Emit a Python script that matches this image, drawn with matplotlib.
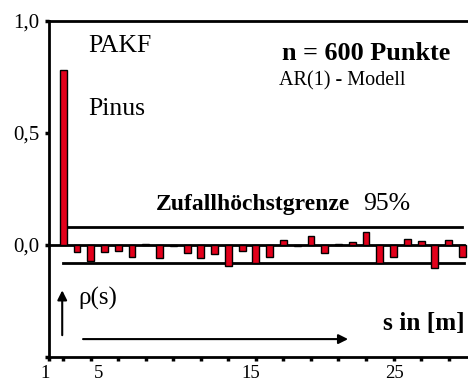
"""Partial autocorrelation plot for an AR(1) series (Pinus, 600 points)."""

import matplotlib
matplotlib.use("Agg")
import matplotlib.pyplot as plt
import numpy as np

# partial autocorrelation per lag
lags = np.arange(1, 31)
pacf = [0.78, -0.033, -0.071, -0.030, -0.027, -0.052, 0.004, -0.060, -0.004, -0.037,
        -0.060, -0.042, -0.095, -0.028, -0.080, -0.052, 0.022, -0.005, 0.042, -0.037,
        0.003, 0.015, 0.057, -0.082, -0.052, 0.025, 0.018, -0.104, 0.022, -0.052]
conf_limit = 0.082  # 95% random upper bound

xtick_marks = [0] + list(range(1, 30, 2))
xlabel_text = ["1", "5", "15", "25"]
xlabel_pos = [-0.3, 3.6, 14.6, 25.1]
ytick_vals = [-0.5, 0.0, 0.5, 1.0]
ytick_text = ["", "0,0", "0,5", "1,0"]

plt.rcParams.update({
    "font.family": ["Liberation Serif", "DejaVu Serif"],
})

fig = plt.figure(figsize=(4.68, 3.82), dpi=100)
ax = fig.add_axes([0.1056, 0.0654, 0.90, 0.8796])

ax.bar(lags, pacf, width=0.5, color="#e3001b", edgecolor="black",
       linewidth=1.0, zorder=3)

# zero line and confidence bounds
ax.plot([0, 30.1], [0, 0], color="black", lw=2, zorder=2)
ax.plot([1, 30.0], [conf_limit, conf_limit], color="black", lw=2, zorder=2)
ax.plot([1, 30.1], [-conf_limit, -conf_limit], color="black", lw=2, zorder=2)

ax.set_xlim(0, 30.6)
ax.set_ylim(-0.5, 1.0)

for side in ("left", "top", "bottom"):
    ax.spines[side].set_linewidth(2)
ax.spines["right"].set_visible(False)

ax.set_yticks(ytick_vals, ytick_text)
ax.set_xticks(xtick_marks, [""] * len(xtick_marks))
ax.tick_params(axis="both", direction="out", length=3, width=2.5,
               labelsize=15, pad=4)
for lbl, pos in zip(xlabel_text, xlabel_pos):
    ax.text(pos, -0.592, lbl, ha="center", va="baseline", fontsize=13.5,
            clip_on=False)

# annotations
ax.text(2.83, 0.862, "PAKF", fontsize=18.5)
ax.text(2.83, 0.58, "Pinus", fontsize=18.5)
ax.text(16.9, 0.826, "n = 600 Punkte", fontsize=18.8, fontweight="bold")
ax.text(16.7, 0.714, "AR(1) - Modell", fontsize=14.5)
ax.text(7.74, 0.156, "Zufallhöchstgrenze", fontsize=17, fontweight="bold")
ax.text(22.8, 0.156, "95%", fontsize=18.5)
ax.text(2.1, -0.268, "ρ(s)", fontsize=18)
ax.text(24.2, -0.38, "s in [m]", fontsize=18.3, fontweight="bold")

# axis direction arrows
ax.annotate("", xy=(0.93, -0.19), xytext=(0.93, -0.415),
            arrowprops=dict(arrowstyle="-|>", color="black", lw=1.5,
                            mutation_scale=14))
ax.annotate("", xy=(21.9, -0.42), xytext=(2.24, -0.42),
            arrowprops=dict(arrowstyle="-|>", color="black", lw=1.5,
                            mutation_scale=14))

plt.savefig("out.png", dpi=100)
plt.close()
